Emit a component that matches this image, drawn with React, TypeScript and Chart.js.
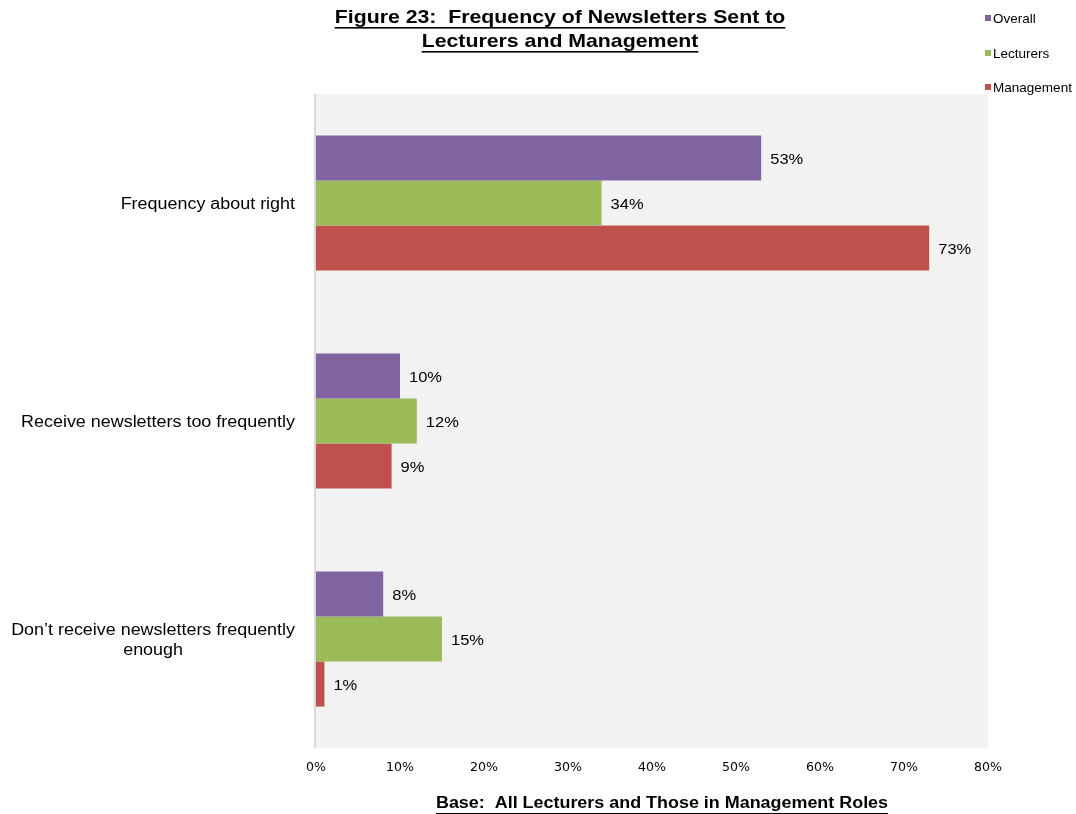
import React, { useEffect, useRef } from "react";
import { Chart, registerables } from "chart.js";

Chart.register(...registerables);

const categories: string[][] = [
  ["Frequency about right"],
  ["Receive newsletters too frequently"],
  ["Don\u2019t receive newsletters frequently", "enough"],
];
const overall = [53, 10, 8];
const lecturers = [34, 12, 15];
const management = [73, 9, 1];
const seriesNames = ["Overall", "Lecturers", "Management"];
const seriesColors = ["#8064A2", "#9BBB59", "#C0504D"];
const xTicks = [0, 10, 20, 30, 40, 50, 60, 70, 80];
const titleLines = ["Figure 23:  Frequency of Newsletters Sent to", "Lecturers and Management"];
const baseText = "Base:  All Lecturers and Those in Management Roles";

const FONT = "Arial, 'Liberation Sans', sans-serif";
const NARROW = "'Liberation Sans Narrow', 'Arial Narrow', 'DejaVu Sans Condensed', sans-serif";
const SX = 1.12;

function drawText(
  ctx: CanvasRenderingContext2D,
  text: string,
  x: number,
  y: number,
  align: CanvasTextAlign,
  font: string,
  sx: number
) {
  ctx.save();
  ctx.font = font;
  ctx.textAlign = align;
  ctx.textBaseline = "middle";
  ctx.fillStyle = "#000";
  ctx.translate(x, y);
  ctx.scale(sx, 1);
  ctx.fillText(text, 0, 0);
  ctx.restore();
}

function underlinedText(ctx: CanvasRenderingContext2D, text: string, cx: number, cy: number, font: string) {
  drawText(ctx, text, cx, cy, "center", font, SX);
  ctx.save();
  ctx.font = font;
  const w = ctx.measureText(text).width * SX;
  ctx.fillStyle = "#000";
  ctx.fillRect(cx - w / 2, cy + 9, w, 1.6);
  ctx.restore();
}

const customPlugin = {
  id: "customDraw",
  beforeDraw(chart: any) {
    const { ctx, chartArea } = chart;
    ctx.save();
    ctx.fillStyle = "#F2F2F2";
    ctx.fillRect(chartArea.left, chartArea.top, chartArea.right - chartArea.left, chartArea.bottom - chartArea.top);
    ctx.fillStyle = "#D9D9D9";
    ctx.fillRect(chartArea.left - 2, chartArea.top, 2, chartArea.bottom - chartArea.top);
    ctx.restore();
  },
  afterDraw(chart: any) {
    const { ctx, chartArea } = chart;
    // title
    underlinedText(ctx, titleLines[0], 560, 18, `bold 19px ${FONT}`);
    underlinedText(ctx, titleLines[1], 560, 42, `bold 19px ${FONT}`);
    // base label
    underlinedText(ctx, baseText, 662, 804, `bold 16px ${FONT}`);
    // legend
    const legendY = [18, 53, 87];
    seriesNames.forEach((n, i) => {
      ctx.fillStyle = seriesColors[i];
      ctx.fillRect(985, legendY[i] - 3, 6, 6);
      drawText(ctx, n, 993, legendY[i] + 1, "left", `13px ${FONT}`, 1.04);
    });
    // x tick labels
    const xScale = chart.scales.x;
    xTicks.forEach((v) => {
      drawText(ctx, v + "%", xScale.getPixelForValue(v), 768, "center", `12.5px ${NARROW}`, SX);
    });
    // category labels
    const yScale = chart.scales.y;
    categories.forEach((lines, i) => {
      const cy = yScale.getPixelForValue(i) + 2;
      ctx.font = `16px ${FONT}`;
      const widths = lines.map((l) => ctx.measureText(l).width * SX);
      const maxW = Math.max(...widths);
      const right = chartArea.left - 21;
      const lh = 20;
      const startY = cy - ((lines.length - 1) * lh) / 2;
      lines.forEach((l, j) => {
        drawText(ctx, l, right - maxW / 2, startY + j * lh, "center", `16px ${FONT}`, SX);
      });
    });
    // data labels
    chart.data.datasets.forEach((ds: any, di: number) => {
      const meta = chart.getDatasetMeta(di);
      meta.data.forEach((el: any, i: number) => {
        drawText(ctx, ds.data[i] + "%", el.x + 9, el.y + 2, "left", `15px ${FONT}`, 1.1);
      });
    });
  },
};

export default function App() {
  const ref = useRef<HTMLCanvasElement>(null);
  useEffect(() => {
    if (!ref.current) return;
    const chart = new Chart(ref.current, {
      type: "bar",
      data: {
        labels: categories.map((c) => c.join(" ")),
        datasets: [
          { label: seriesNames[0], data: overall, backgroundColor: seriesColors[0] },
          { label: seriesNames[1], data: lecturers, backgroundColor: seriesColors[1] },
          { label: seriesNames[2], data: management, backgroundColor: seriesColors[2] },
        ],
      },
      options: {
        indexAxis: "y",
        animation: false,
        responsive: false,
        maintainAspectRatio: false,
        devicePixelRatio: 1,
        layout: { padding: { left: 316, top: 94, right: 88, bottom: 36 } },
        datasets: { bar: { barPercentage: 1, categoryPercentage: 0.62 } },
        plugins: { legend: { display: false }, title: { display: false }, tooltip: { enabled: false } },
        scales: {
          x: {
            min: 0,
            max: 80,
            afterBuildTicks: (scale: any) => {
              scale.ticks = xTicks.map((v) => ({ value: v }));
            },
            afterFit: (scale: any) => {
              scale.height = 30;
            },
            grid: { display: false, drawTicks: false },
            border: { display: false },
            ticks: { display: false },
          },
          y: {
            afterFit: (scale: any) => {
              scale.width = 0;
            },
            grid: { display: false, drawTicks: false },
            border: { display: false },
            ticks: { display: false },
          },
        },
      },
      plugins: [customPlugin],
    });
    return () => chart.destroy();
  }, []);
  return (
    <div style={{ position: "fixed", left: 0, top: 0, width: 1076, height: 814, background: "#fff" }}>
      <canvas ref={ref} width={1076} height={814} style={{ width: 1076, height: 814 }} />
    </div>
  );
}
